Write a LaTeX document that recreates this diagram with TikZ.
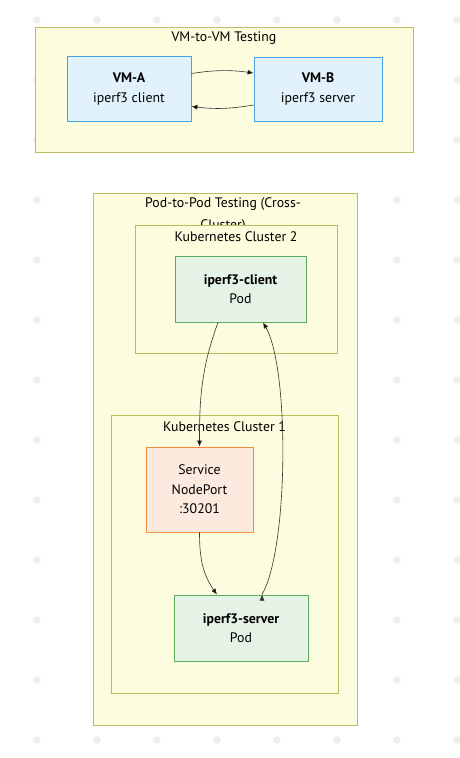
\documentclass[tikz,border=0pt]{standalone}
\usepackage{fontspec}
\setmainfont{PT Sans}
\usepackage{tikz}
\usetikzlibrary{arrows.meta,positioning}

\definecolor{grpfill}{HTML}{FCFCDE}
\definecolor{grpline}{HTML}{BDBD5C}
\definecolor{vmfill}{HTML}{E1F2FB}
\definecolor{vmline}{HTML}{4AA2E0}
\definecolor{podfill}{HTML}{E5F2E6}
\definecolor{podline}{HTML}{5DAA5D}
\definecolor{svcfill}{HTML}{FDEADF}
\definecolor{svcline}{HTML}{F28A3E}
\definecolor{dotgray}{HTML}{EEEEEE}
\definecolor{flowgray}{HTML}{333333}

\begin{document}
\begin{tikzpicture}[x=1pt,y=-1pt,
        font=\fontsize{13.8}{16.5}\selectfont,
        group/.style={draw=grpline,fill=grpfill,line width=0.9pt,inner sep=0pt},
        vmbox/.style={draw=vmline,fill=vmfill,line width=0.8pt,align=center},
        podbox/.style={draw=podline,fill=podfill,line width=0.8pt,align=center},
        svcbox/.style={draw=svcline,fill=svcfill,line width=0.8pt,align=center},
        flow/.style={draw=flowgray,line width=0.6pt,-{Latex[length=6pt,width=5pt]}}]
        \useasboundingbox (0,0) rectangle (460,758);
        % background dots
        \foreach \i in {0,...,7}
          \foreach \j in {0,...,12}
            \fill[dotgray] (37+60*\i,20+60*\j) circle (3.8);

        % VM to VM
        \node[group, minimum width=378, minimum height=125] (vmgrp) at (224,89.5) {};
        \node (vmtitle) at (224,38) {VM-to-VM Testing};
        \node[vmbox, minimum width=124, minimum height=65] (vma) at (129,89)
             {\textbf{VM-A}\\[3pt]iperf3 client};
        \node[vmbox, minimum width=128, minimum height=64] (vmb) at (318,89)
             {\textbf{VM-B}\\[3pt]iperf3 server};

        % Pod to Pod
        \node[group, minimum width=264, minimum height=532] (podgrp) at (225,459) {};
        \node[align=center] (podtitle) at (223,215) {Pod-to-Pod Testing (Cross-\\[5pt]Cluster)};
        \node[group, minimum width=202, minimum height=128] (k8s2) at (236,289) {};
        \node (k8s2title) at (236,237) {Kubernetes Cluster 2};
        \node[podbox, minimum width=131, minimum height=66] (client) at (240.5,289)
             {\textbf{iperf3-client}\\[3pt]Pod};

        \node[group, minimum width=227, minimum height=278] (k8s1) at (224.5,554) {};
        \node (k8s1title) at (224.5,427) {Kubernetes Cluster 1};
        \node[svcbox, minimum width=107, minimum height=85] (svc) at (199.5,489.5)
             {Service\\[3pt]NodePort\\[3pt]:30201};
        \node[podbox, minimum width=134, minimum height=66] (server) at (241,628)
             {\textbf{iperf3-server}\\[3pt]Pod};

        \path[flow]
          ([yshift=15.5]vma.east) edge [bend left=8] ([yshift=16]vmb.west)
          ([yshift=-16]vmb.west) edge [bend left=8] ([yshift=-17.5]vma.east)
          ([xshift=-22.5]client.south) edge [out=-110,in=90] (svc.north)
          (svc.south) edge [out=-90,in=125] ([xshift=-24]server.north)
          ([xshift=21]server.north) edge [out=60,in=-60,looseness=0.5] ([xshift=22.5]client.south)
          ;
\end{tikzpicture}
\end{document}
